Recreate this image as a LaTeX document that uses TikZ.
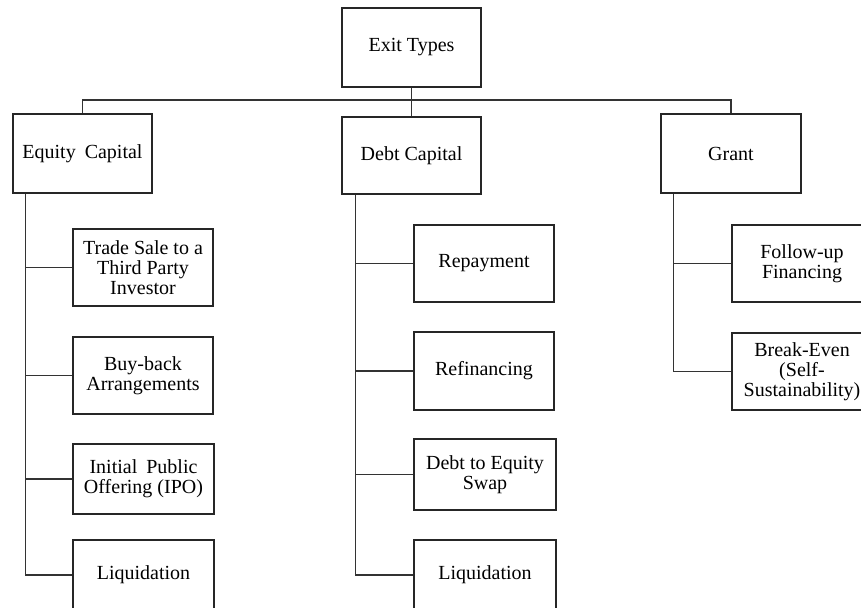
\documentclass[tikz,border=0pt]{standalone}
\usepackage{fontspec}
\setmainfont{Liberation Serif}
\begin{document}
\begin{tikzpicture}[x=1pt,y=-1pt,
  box/.style={draw=black!85, line width=1.3pt, fill=white, align=center, inner sep=0pt,
    font=\fontsize{20}{20}\selectfont},
  link/.style={draw=black!80, line width=1.3pt},
]
\useasboundingbox (0,0) rectangle (861,607);
\begin{scope}
\clip (0,0) rectangle (861,607);
% top level
\node[box, minimum width=139pt, minimum height=79pt] (root) at (411.5,47.5) {Exit Types};
\node[box, minimum width=139pt, minimum height=79pt] (eq) at (82.5,153.5) {Equity\hspace{0.45em}Capital};
\node[box, minimum width=139pt, minimum height=77pt] (debt) at (411.5,155.5) {Debt Capital};
\node[box, minimum width=140pt, minimum height=79pt] (grant) at (731,153.5) {Grant};
% equity children
\node[box, minimum width=140pt, minimum height=77pt] (ts) at (143,267.5) {Trade Sale to a\\Third Party\\Investor};
\node[box, minimum width=140pt, minimum height=77pt] (bb) at (143,375.5) {Buy-back\\Arrangements};
\node[box, minimum width=141pt, minimum height=70pt] (ipo) at (143.5,479) {Initial\hspace{0.45em}Public\\Offering (IPO)};
\node[box, minimum width=141pt, minimum height=70pt] (liqa) at (143.5,575) {Liquidation};
% debt children
\node[box, minimum width=140pt, minimum height=77pt] (rep) at (484,263.5) {Repayment};
\node[box, minimum width=140pt, minimum height=78pt] (ref) at (484,371) {Refinancing};
\node[box, minimum width=142pt, minimum height=71pt] (swap) at (485,474.5) {Debt to Equity\\Swap};
\node[box, minimum width=142pt, minimum height=70pt] (liqb) at (485,575) {Liquidation};
% grant children
\node[box, minimum width=140pt, minimum height=77pt] (fu) at (802,263.5) {Follow-up\\Financing};
\node[box, minimum width=140pt, minimum height=77pt] (be) at (802,371.5) {Break-Even\\(Self-\\Sustainability)};
% connectors
\coordinate (bar) at (411.5,100);
\draw[link] (root.south) -- (debt.north);
\draw[link] (eq.north) |- (bar) -| (grant.north);
\coordinate (et) at ([xshift=13pt]eq.south west);
\coordinate (dt) at ([xshift=14pt]debt.south west);
\coordinate (gt) at ([xshift=13pt]grant.south west);
\draw[link] (et) |- (liqa.west);
\foreach \n in {ts,bb,ipo} \draw[link] (\n.west) -- (\n.west -| et);
\draw[link] (dt) |- (liqb.west);
\foreach \n in {rep,ref,swap} \draw[link] (\n.west) -- (\n.west -| dt);
\draw[link] (gt) |- (be.west);
\draw[link] (fu.west) -- (fu.west -| gt);
\end{scope}
\end{tikzpicture}
\end{document}
